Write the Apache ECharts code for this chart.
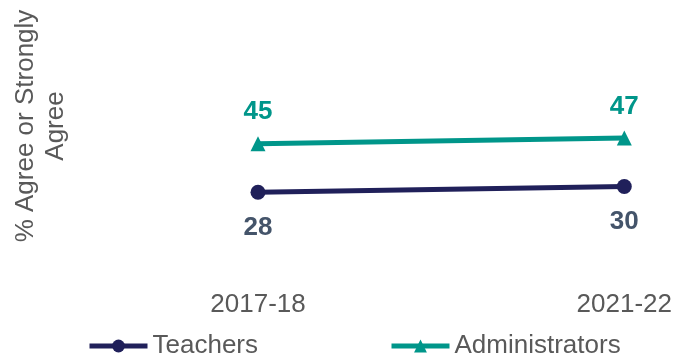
<!DOCTYPE html>
<html>
<head>
<meta charset="utf-8">
<script src="https://cdn.jsdelivr.net/npm/echarts@6/dist/echarts.min.js"></script>
<style>
html,body{margin:0;padding:0;background:#fff;}
#chart{width:675px;height:360px;}
</style>
</head>
<body>
<div id="chart"></div>
<script>
// Survey years and share responding "Agree" or "Strongly Agree"
const years = ['2017-18', '2021-22'];
const teachers = [28, 30];
const administrators = [45, 47];
const seriesNames = ['Teachers', 'Administrators'];

const chart = echarts.init(document.getElementById('chart'));
const font = '"Liberation Sans", Arial, sans-serif';

chart.setOption({
  animation: false,
  grid: { left: 258, right: 45, top: 44, bottom: 88 },
  xAxis: {
    type: 'category',
    data: years,
    boundaryGap: false,
    axisLine: { show: false },
    axisTick: { show: false },
    axisLabel: { color: '#595959', fontSize: 26, fontFamily: font, margin: 20 }
  },
  yAxis: {
    type: 'value',
    min: 0,
    max: 80,
    show: false
  },
  legend: {
    left: 87,
    top: 333,
    padding: 0,
    itemWidth: 58,
    itemHeight: 16,
    itemGap: 131,
    lineStyle: { width: 5 },
    textStyle: { color: '#595959', fontSize: 26, fontFamily: font },
    data: seriesNames
  },
  graphic: [{
    type: 'text',
    x: 41,
    y: 126,
    rotation: Math.PI / 2,
    style: {
      text: '% Agree or Strongly\nAgree',
      fill: '#595959',
      font: '26px ' + font,
      align: 'center',
      verticalAlign: 'middle',
      lineHeight: 30
    }
  }],
  series: [{
    name: seriesNames[0],
    type: 'line',
    data: teachers,
    symbol: 'circle',
    symbolSize: 15,
    color: '#20205a',
    lineStyle: { width: 5, color: '#20205a' },
    label: {
      show: true,
      position: 'bottom',
      distance: 15,
      color: '#44546a',
      fontSize: 26,
      fontWeight: 'bold',
      fontFamily: font
    }
  }, {
    name: seriesNames[1],
    type: 'line',
    data: administrators,
    symbol: 'triangle',
    symbolSize: 15,
    color: '#00968a',
    lineStyle: { width: 5, color: '#00968a' },
    label: {
      show: true,
      position: 'top',
      distance: 11,
      color: '#00968a',
      fontSize: 26,
      fontWeight: 'bold',
      fontFamily: font
    }
  }]
});
</script>
</body>
</html>
